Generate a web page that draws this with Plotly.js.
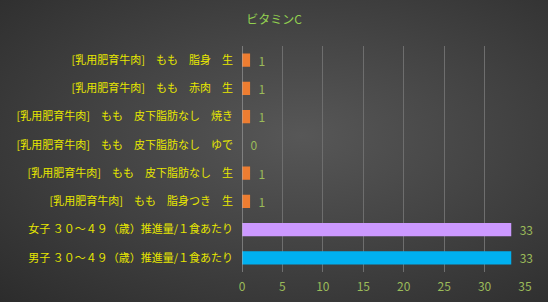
<!DOCTYPE html>
<html>
<head>
<meta charset="utf-8">
<script src="https://cdn.plot.ly/plotly-3.0.1.min.js"></script>
<style>
html,body{margin:0;padding:0;}
#chart{width:548px;height:302px;background:radial-gradient(ellipse at 55% 45%, #575757 0%, #464646 40%, #2c2c2c 100%);}
</style>
</head>
<body>
<div id="chart"></div>
<script>
const categories = [
  "[乳用肥育牛肉]　もも　脂身　生",
  "[乳用肥育牛肉]　もも　赤肉　生",
  "[乳用肥育牛肉]　もも　皮下脂肪なし　焼き",
  "[乳用肥育牛肉]　もも　皮下脂肪なし　ゆで",
  "[乳用肥育牛肉]　もも　皮下脂肪なし　生",
  "[乳用肥育牛肉]　もも　脂身つき　生",
  "女子 ３０～４９（歳）推進量/１食あたり",
  "男子 ３０～４９（歳）推進量/１食あたり"
];
const values = [1, 1, 1, 0, 1, 1, 33.3, 33.3];
const barColors = ["#ED7D31","#ED7D31","#ED7D31","#ED7D31","#ED7D31","#ED7D31","#CC99FF","#00B0F0"];
const xTicks = [0,5,10,15,20,25,30,35];

const font = "'Noto Sans CJK JP', 'Noto Sans', sans-serif";
Plotly.newPlot('chart', [{
  type: 'bar',
  orientation: 'h',
  y: categories,
  x: values,
  marker: {color: barColors},
  width: 0.47,
  text: values.map(v => '  ' + String(Math.round(v))),
  textposition: 'outside',
  constraintext: 'none',
  textfont: {color: '#9BBB59', size: 12, family: font},
  cliponaxis: false,
  hoverinfo: 'none'
}], {
  width: 548, height: 302,
  paper_bgcolor: 'rgba(0,0,0,0)',
  plot_bgcolor: 'rgba(0,0,0,0)',
  margin: {l: 242, r: 23, t: 46, b: 30},
  title: {text: 'ビタミンC', font: {color: '#92D050', size: 12, family: font}, x: 0.5, xanchor: 'center', y: 0.935, yanchor: 'middle'},
  showlegend: false,
  xaxis: {
    range: [0, 35], tickvals: xTicks, ticktext: xTicks.map(String),
    showgrid: true, gridcolor: '#6e6e6e', gridwidth: 1,
    zeroline: false, showline: false,
    tickfont: {color: '#9BBB59', size: 12, family: font}, ticks: '',
    ticklabelstandoff: 6, fixedrange: true
  },
  yaxis: {
    autorange: 'reversed', type: 'category',
    showgrid: false, zeroline: false,
    showline: false, ticks: '',
    tickfont: {color: '#E6E600', size: 11, family: font},
    ticklabelstandoff: 8
  },
  shapes: [{type: 'line', xref: 'x', yref: 'paper', x0: 0, x1: 0, y0: 0, y1: 1, line: {color: '#b0b0b0', width: 1}}]
}, {staticPlot: true});
</script>
</body>
</html>
